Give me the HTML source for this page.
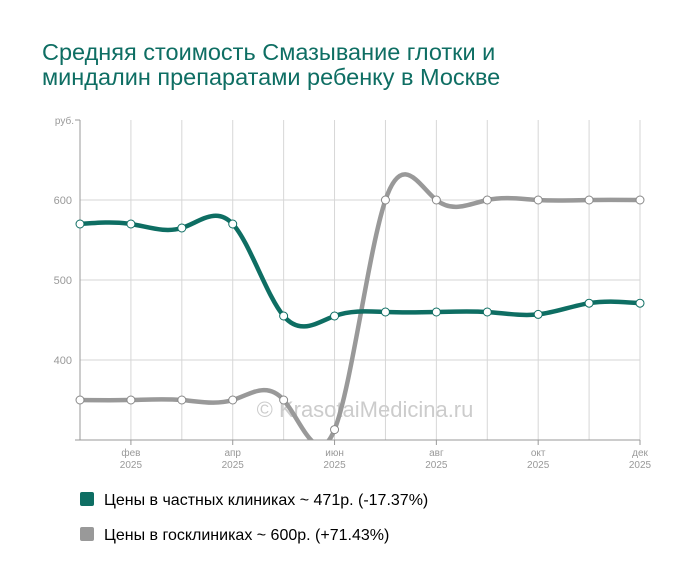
<!DOCTYPE html>
<html><head><meta charset="utf-8"><style>
body{margin:0;background:#fff;width:700px;height:583px;overflow:hidden;font-family:"Liberation Sans",sans-serif}
</style></head><body>
<svg width="700" height="583" viewBox="0 0 700 583" xmlns="http://www.w3.org/2000/svg" font-family="Liberation Sans, sans-serif">
<text x="42" y="60" font-size="23.5" fill="#0e6e63">Средняя стоимость Смазывание глотки и</text>
<text x="42" y="85" font-size="23.5" fill="#0e6e63">миндалин препаратами ребенку в Москве</text>
<g id="grid" stroke="#d6d6d6" stroke-width="1"></g>
<line x1="80" y1="120" x2="80" y2="440" stroke="#999"/>
<line x1="75" y1="440" x2="640" y2="440" stroke="#999"/>
<line x1="75" y1="120" x2="80" y2="120" stroke="#999"/>
<text x="74" y="124" font-size="10" fill="#999" text-anchor="end">руб.</text>
<g font-size="11" fill="#999" text-anchor="end">
<text x="72" y="204">600</text><text x="72" y="284">500</text><text x="72" y="364">400</text></g>
<g id="xl" font-size="10" fill="#999" text-anchor="middle"></g>
<text x="365" y="417" font-size="22" fill="#ccc" text-anchor="middle">© KrasotaiMedicina.ru</text>
<defs><clipPath id="c"><rect x="80" y="100" width="580" height="340"/></clipPath></defs>
<g clip-path="url(#c)">
<path id="p2" fill="none" stroke="#999" stroke-width="4.5"/>
<path id="p1" fill="none" stroke="#0e6e63" stroke-width="4.5"/>
</g>
<g id="pts"></g>
<rect x="80" y="492" width="14" height="14" rx="2" fill="#0e6e63"/>
<text x="104" y="505" font-size="16" fill="#000">Цены в частных клиниках ~ 471р. (-17.37%)</text>
<rect x="80" y="527" width="14" height="14" rx="2" fill="#999"/>
<text x="104" y="540" font-size="16" fill="#000">Цены в госклиниках ~ 600р. (+71.43%)</text>
</svg>
<script>
function X(i){return 80+i*560/11}
function Y(v){return 200-(v-600)*0.8}
var g=document.getElementById('grid');
g.innerHTML+='<line x1="80" y1="200" x2="640" y2="200"/><line x1="80" y1="280" x2="640" y2="280"/><line x1="80" y1="360" x2="640" y2="360"/>';
for(var i=1;i<12;i++)g.innerHTML+='<line x1="'+X(i)+'" y1="120" x2="'+X(i)+'" y2="440"/>';
var m=['фев','апр','июн','авг','окт','дек'],s='';
for(var k=0;k<6;k++){var x=X(2*k+1);s+='<line x1="'+x+'" y1="440" x2="'+x+'" y2="445" stroke="#999"/><text x="'+x+'" y="456">'+m[k]+'</text><text x="'+x+'" y="468">2025</text>';}
document.getElementById('xl').innerHTML=s;
function path(d){
 var n=d.length,y=d.map(Y),h=560/11;
 // natural cubic spline second derivatives (uniform spacing)
 var M=new Array(n).fill(0),c=new Array(n).fill(0),r=new Array(n).fill(0);
 var a=[],bb=[],cc=[],rr=[];
 for(var i=1;i<n-1;i++){a.push(1);bb.push(4);cc.push(1);rr.push(6*(y[i+1]-2*y[i]+y[i-1])/(h*h));}
 var N=bb.length;
 for(var i=1;i<N;i++){var w=a[i]/bb[i-1];bb[i]-=w*cc[i-1];rr[i]-=w*rr[i-1];}
 var sol=new Array(N);sol[N-1]=rr[N-1]/bb[N-1];
 for(var i=N-2;i>=0;i--)sol[i]=(rr[i]-cc[i]*sol[i+1])/bb[i];
 for(var i=0;i<N;i++)M[i+1]=sol[i];
 var p='M'+X(0)+','+y[0];
 for(var i=0;i<n-1;i++){
  var s0=(y[i+1]-y[i])/h-h*(2*M[i]+M[i+1])/6;
  var s1=(y[i+1]-y[i])/h+h*(M[i]+2*M[i+1])/6;
  p+='C'+(X(i)+h/3)+','+(y[i]+s0*h/3)+' '+(X(i+1)-h/3)+','+(y[i+1]-s1*h/3)+' '+X(i+1)+','+y[i+1];
 }
 return{s:p,p:y.map(function(v,i){return[X(i),v]})};
}
var d1=[570,570,565,570,455,455,460,460,460,457,471,471],d2=[350,350,350,350,350,313,600,600,600,600,600,600];
var A=path(d1),B=path(d2);
document.getElementById('p1').setAttribute('d',A.s);document.getElementById('p2').setAttribute('d',B.s);
var pts='';
[[A.p,'#0e6e63'],[B.p,'#888']].forEach(function(o){o[0].forEach(function(q){pts+='<circle cx="'+q[0]+'" cy="'+q[1]+'" r="4" fill="#fff" stroke="'+o[1]+'" stroke-width="1"/>'})});
document.getElementById('pts').innerHTML=pts;
</script>
</body></html>
